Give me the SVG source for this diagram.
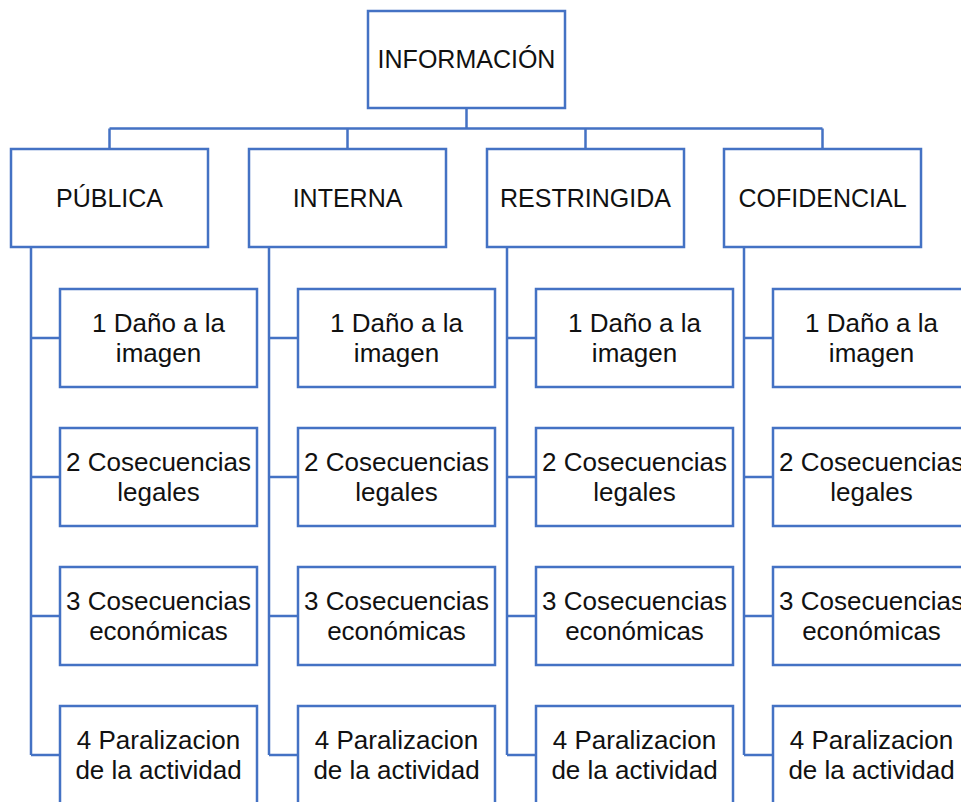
<svg xmlns="http://www.w3.org/2000/svg" width="961" height="802" viewBox="0 0 961 802">
<style>
.box{fill:#fff;stroke:#4472C4;stroke-width:2.5}
.ln{fill:none;stroke:#4472C4;stroke-width:2.5}
text{font-family:"Liberation Sans",Arial,sans-serif;font-size:25px;fill:#111;text-anchor:middle}
.c text{font-size:26px}
</style>
<rect width="961" height="802" fill="#fff"/>
<g id="connectors">
<path class="ln" d="M466.5 108V128.5M109.5 128.5H822.5M109.5 128.5V149M347.5 128.5V149M585.5 128.5V149M822.5 128.5V149"/>
<path class="ln" d="M31 247V755M31 338H60M31 477H60M31 616H60M31 755H60"/>
<path class="ln" d="M269 247V755M269 338H298M269 477H298M269 616H298M269 755H298"/>
<path class="ln" d="M507 247V755M507 338H536M507 477H536M507 616H536M507 755H536"/>
<path class="ln" d="M744 247V755M744 338H773M744 477H773M744 616H773M744 755H773"/>
</g>
<g id="informacion"><rect class="box" x="368" y="11" width="197" height="97"/><text x="466.5" y="68">INFORMACIÓN</text></g>
<g id="publica"><rect class="box" x="11" y="149" width="197" height="98"/><text x="109.5" y="207">PÚBLICA</text></g>
<g id="interna"><rect class="box" x="249" y="149" width="197" height="98"/><text x="347.5" y="207">INTERNA</text></g>
<g id="restringida"><rect class="box" x="487" y="149" width="197" height="98"/><text x="585.5" y="207">RESTRINGIDA</text></g>
<g id="cofidencial"><rect class="box" x="724" y="149" width="197" height="98"/><text x="822.5" y="207">COFIDENCIAL</text></g>

<g id="pub1" class="c"><rect class="box" x="60" y="289" width="197" height="98"/><text x="158.5" y="332">1 Daño a la</text><text x="158.5" y="362">imagen</text></g>
<g id="pub2" class="c"><rect class="box" x="60" y="428" width="197" height="98"/><text x="158.5" y="471">2 Cosecuencias</text><text x="158.5" y="501">legales</text></g>
<g id="pub3" class="c"><rect class="box" x="60" y="567" width="197" height="98"/><text x="158.5" y="610">3 Cosecuencias</text><text x="158.5" y="640">económicas</text></g>
<g id="pub4" class="c"><rect class="box" x="60" y="706" width="197" height="98"/><text x="158.5" y="749">4 Paralizacion</text><text x="158.5" y="779">de la actividad</text></g>

<g id="int1" class="c"><rect class="box" x="298" y="289" width="197" height="98"/><text x="396.5" y="332">1 Daño a la</text><text x="396.5" y="362">imagen</text></g>
<g id="int2" class="c"><rect class="box" x="298" y="428" width="197" height="98"/><text x="396.5" y="471">2 Cosecuencias</text><text x="396.5" y="501">legales</text></g>
<g id="int3" class="c"><rect class="box" x="298" y="567" width="197" height="98"/><text x="396.5" y="610">3 Cosecuencias</text><text x="396.5" y="640">económicas</text></g>
<g id="int4" class="c"><rect class="box" x="298" y="706" width="197" height="98"/><text x="396.5" y="749">4 Paralizacion</text><text x="396.5" y="779">de la actividad</text></g>

<g id="res1" class="c"><rect class="box" x="536" y="289" width="197" height="98"/><text x="634.5" y="332">1 Daño a la</text><text x="634.5" y="362">imagen</text></g>
<g id="res2" class="c"><rect class="box" x="536" y="428" width="197" height="98"/><text x="634.5" y="471">2 Cosecuencias</text><text x="634.5" y="501">legales</text></g>
<g id="res3" class="c"><rect class="box" x="536" y="567" width="197" height="98"/><text x="634.5" y="610">3 Cosecuencias</text><text x="634.5" y="640">económicas</text></g>
<g id="res4" class="c"><rect class="box" x="536" y="706" width="197" height="98"/><text x="634.5" y="749">4 Paralizacion</text><text x="634.5" y="779">de la actividad</text></g>

<g id="cof1" class="c"><rect class="box" x="773" y="289" width="197" height="98"/><text x="871.5" y="332">1 Daño a la</text><text x="871.5" y="362">imagen</text></g>
<g id="cof2" class="c"><rect class="box" x="773" y="428" width="197" height="98"/><text x="871.5" y="471">2 Cosecuencias</text><text x="871.5" y="501">legales</text></g>
<g id="cof3" class="c"><rect class="box" x="773" y="567" width="197" height="98"/><text x="871.5" y="610">3 Cosecuencias</text><text x="871.5" y="640">económicas</text></g>
<g id="cof4" class="c"><rect class="box" x="773" y="706" width="197" height="98"/><text x="871.5" y="749">4 Paralizacion</text><text x="871.5" y="779">de la actividad</text></g>
</svg>
